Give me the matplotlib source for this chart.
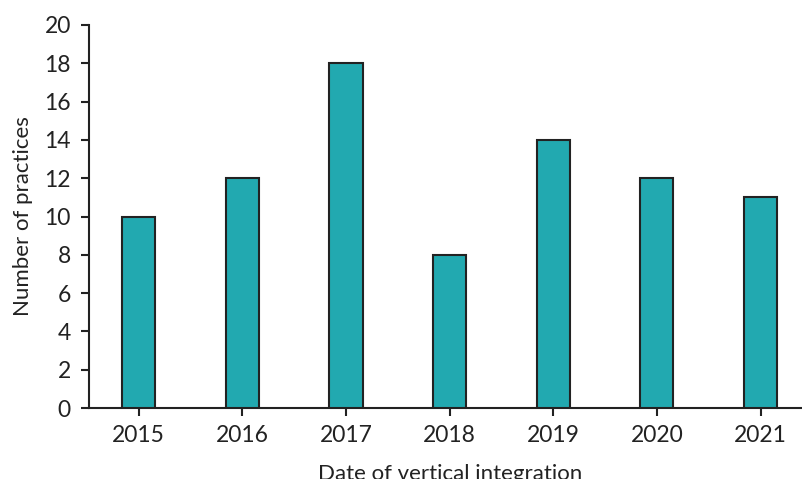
import matplotlib
matplotlib.use("Agg")
import matplotlib.pyplot as plt

years = ["2015", "2016", "2017", "2018", "2019", "2020", "2021"]
practices = [10, 12, 18, 8, 14, 12, 11]
y_ticks = [0, 2, 4, 6, 8, 10, 12, 14, 16, 18, 20]

plt.rcParams['font.family'] = ['Lato', 'DejaVu Sans']

fig = plt.figure(figsize=(8.02, 4.79), dpi=100)
ax = fig.add_axes([0.111, 0.148, 0.889, 0.800])

x = list(range(len(years)))
ax.bar(x, practices, width=0.32, color="#22a9b0", edgecolor="#222222", linewidth=1.5, zorder=3)

ax.set_xlim(-0.48, 6.4)
ax.set_ylim(0, 20)
ax.set_yticks(y_ticks)
ax.set_xticks(x)
ax.set_xticklabels(years)

for s in ["top", "right"]:
    ax.spines[s].set_visible(False)
for s in ["left", "bottom"]:
    ax.spines[s].set_linewidth(1.5)
    ax.spines[s].set_color("#222222")

ax.tick_params(axis="both", labelsize=16.5, colors="#222222", width=1.5, length=6, direction="out")
ax.tick_params(axis="y", pad=7)
ax.tick_params(axis="x", pad=6)
ax.set_ylabel("Number of practices", fontsize=16, color="#222222", labelpad=8)
ax.set_xlabel("Date of vertical integration", fontsize=16, color="#222222", labelpad=10)
ax.xaxis.set_label_coords(0.507, -0.145)

fig.savefig("out.png", dpi=100)
